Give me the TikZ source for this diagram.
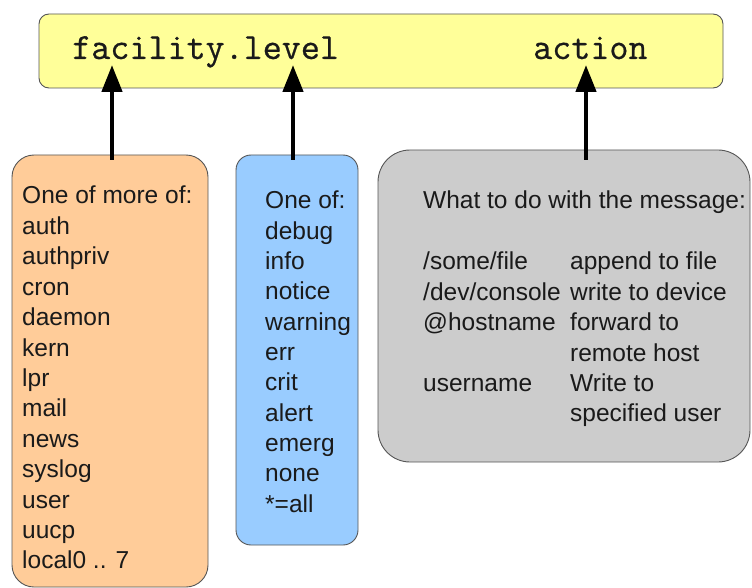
\documentclass[tikz,border=0pt]{standalone}
\usepackage{fontspec}
\setmainfont{Liberation Sans}
\newfontfamily\hdrfont[FakeBold=0.6]{Latin Modern Mono}
\usetikzlibrary{arrows.meta,calc}
\definecolor{boxyellow}{HTML}{FFFF99}
\definecolor{boxorange}{HTML}{FFCC99}
\definecolor{boxblue}{HTML}{99CCFF}
\definecolor{boxgray}{HTML}{CCCCCC}
\definecolor{bordergray}{HTML}{555555}
\definecolor{txt}{HTML}{1A1A1A}
\begin{document}
\begin{tikzpicture}[x=1pt,y=-1pt,
  panel/.style={draw=bordergray, line width=0.9pt, inner sep=0pt},
  body/.style={anchor=base west, inner sep=0pt, text=txt,
    font=\fontsize{24.5}{30}\selectfont},
  mono/.style={anchor=base west, inner sep=0pt, text=txt,
    font=\fontsize{37}{40}\selectfont\hdrfont},
  arr/.style={line width=4.5pt, -{Triangle[length=27pt,width=20pt]}}
]
\useasboundingbox (0,0) rectangle (752,588);

% boxes
\node[panel, fill=boxyellow, rounded corners=10pt, minimum width=684pt, minimum height=74pt] (top) at (381,51) {};
\node[panel, fill=boxorange, rounded corners=22pt, minimum width=196pt, minimum height=432pt] (orange) at (110,371) {};
\node[panel, fill=boxblue, rounded corners=15pt, minimum width=122pt, minimum height=390pt] (blue) at (297,350) {};
\node[panel, fill=boxgray, rounded corners=32pt, minimum width=372pt, minimum height=312pt] (gray) at (564,306) {};

% header text
\node[mono] (fac) at (72,59) {facility.level};
\node[mono] (act) at (533,59) {action};

% arrows
\coordinate (ta) at (112,65);
\coordinate (tb) at (293,65);
\coordinate (tc) at (586,65);
\draw[arr] ($(ta |- orange.north)+(0,5)$) -- (ta);
\draw[arr] ($(tb |- blue.north)+(0,5)$) -- (tb);
\draw[arr] ($(tc |- gray.north)+(0,10)$) -- (tc);

% facility list
\foreach \t [count=\i] in {One of more of:, auth, authpriv, cron, daemon, kern, lpr, mail, news, syslog, user, uucp, local0 .. 7}
  \node[body] (o\i) at (22, {204+(\i-1)*30.4}) {\t};

% level list
\foreach \t [count=\i] in {One of:, debug, info, notice, warning, err, crit, alert, emerg, none, *=all}
  \node[body] (b\i) at (265, {209+(\i-1)*30.3}) {\t};

% action text
\node[body] (g0) at (423,209) {What to do with the message:};
\foreach \k/\t in {2/{/some/file}, 3/{/dev/console}, 4/{@hostname}, 6/{username}}
  \node[body] (gl\k) at (423, {209+\k*30.4}) {\t};
\foreach \k/\t in {2/{append to file}, 3/{write to device}, 4/{forward to}, 5/{remote host}, 6/{Write to}, 7/{specified user}}
  \node[body] (gr\k) at (570, {209+\k*30.4}) {\t};
\end{tikzpicture}
\end{document}
